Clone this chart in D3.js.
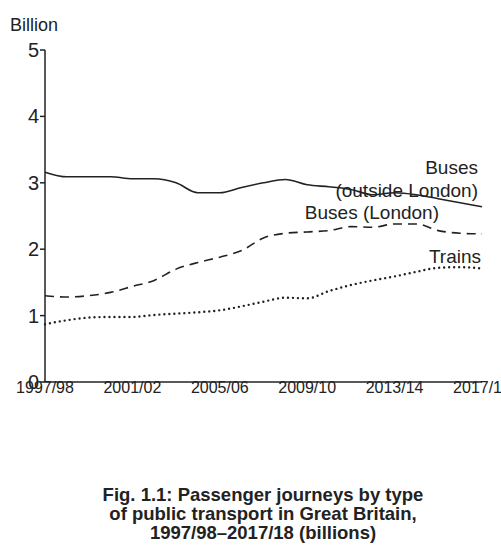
<!DOCTYPE html><html><head><meta charset="utf-8"><script src="https://cdn.jsdelivr.net/npm/d3@7"></script>
<style>body{margin:0;background:#fff}text{font-family:"Liberation Sans",Arial,sans-serif}</style></head><body><svg id="c" width="501" height="556"></svg><script>
const years=d3.range(1997,2018);
const busesOutside=[3.16,3.09,3.09,3.09,3.06,3.06,3.00,2.85,2.85,2.93,3.00,3.05,2.97,2.94,2.90,2.82,2.85,2.82,2.76,2.70,2.64];
const busesLondon=[1.30,1.28,1.30,1.35,1.44,1.53,1.70,1.80,1.88,1.98,2.17,2.24,2.26,2.28,2.34,2.33,2.38,2.38,2.28,2.24,2.23];
const trains=[0.87,0.93,0.97,0.98,0.98,1.01,1.03,1.05,1.08,1.14,1.21,1.27,1.26,1.37,1.46,1.53,1.59,1.66,1.72,1.73,1.71];
const xTicks=[1997,2001,2005,2009,2013,2017];
const yTicks=[0,1,2,3,4,5];
const lab=y=>y+"/"+String((y+1)%100).padStart(2,"0");
const svg=d3.select("#c");
const x=d3.scaleLinear().domain([1997,2017]).range([45,482]);
const y=d3.scaleLinear().domain([0,5]).range([382,50]);
const g=svg.append("g");
g.append("line").attr("x1",45).attr("x2",45).attr("y1",50).attr("y2",382).attr("stroke","#222").attr("stroke-width",1.5);
g.append("line").attr("x1",45).attr("x2",482).attr("y1",382).attr("y2",382).attr("stroke","#222").attr("stroke-width",1.5);
yTicks.forEach(t=>{g.append("line").attr("x1",40).attr("x2",45).attr("y1",y(t)).attr("y2",y(t)).attr("stroke","#222").attr("stroke-width",1.5);
g.append("text").attr("x",39).attr("y",y(t)+7).attr("text-anchor","end").attr("font-size",20).attr("fill","#222").text(t);});
xTicks.forEach(t=>g.append("text").attr("x",x(t)).attr("y",393).attr("text-anchor","middle").attr("font-size",16).attr("fill","#222").text(lab(t)));
g.append("text").attr("x",10).attr("y",31).attr("font-size",18).attr("fill","#222").text("Billion");
const line=d3.line().x((d,i)=>x(years[i])).y(d=>y(d)).curve(d3.curveMonotoneX);
[[busesOutside,null,1.6],[busesLondon,"9,6",1.6],[trains,"0,5",2.4]].forEach(([d,dash,w])=>{
 g.append("path").attr("d",line(d)).attr("fill","none").attr("stroke","#222").attr("stroke-width",w).attr("stroke-dasharray",dash).attr("stroke-linecap",dash==="0,5"?"round":"butt");});
const lt=(t,xx,yy)=>g.append("text").attr("x",xx).attr("y",yy).attr("text-anchor","end").attr("font-size",19).attr("fill","#222").text(t);
lt("Buses",478,174);lt("(outside London)",478,197);lt("Buses (London)",439,219);lt("Trains",481,263);
["Fig. 1.1: Passenger journeys by type","of public transport in Great Britain,","1997/98–2017/18 (billions)"].forEach((t,i)=>
 svg.append("text").attr("x",263).attr("y",501+i*19).attr("text-anchor","middle").attr("font-size",18.5).attr("font-weight","bold").attr("fill","#222").text(t));
</script></body></html>
